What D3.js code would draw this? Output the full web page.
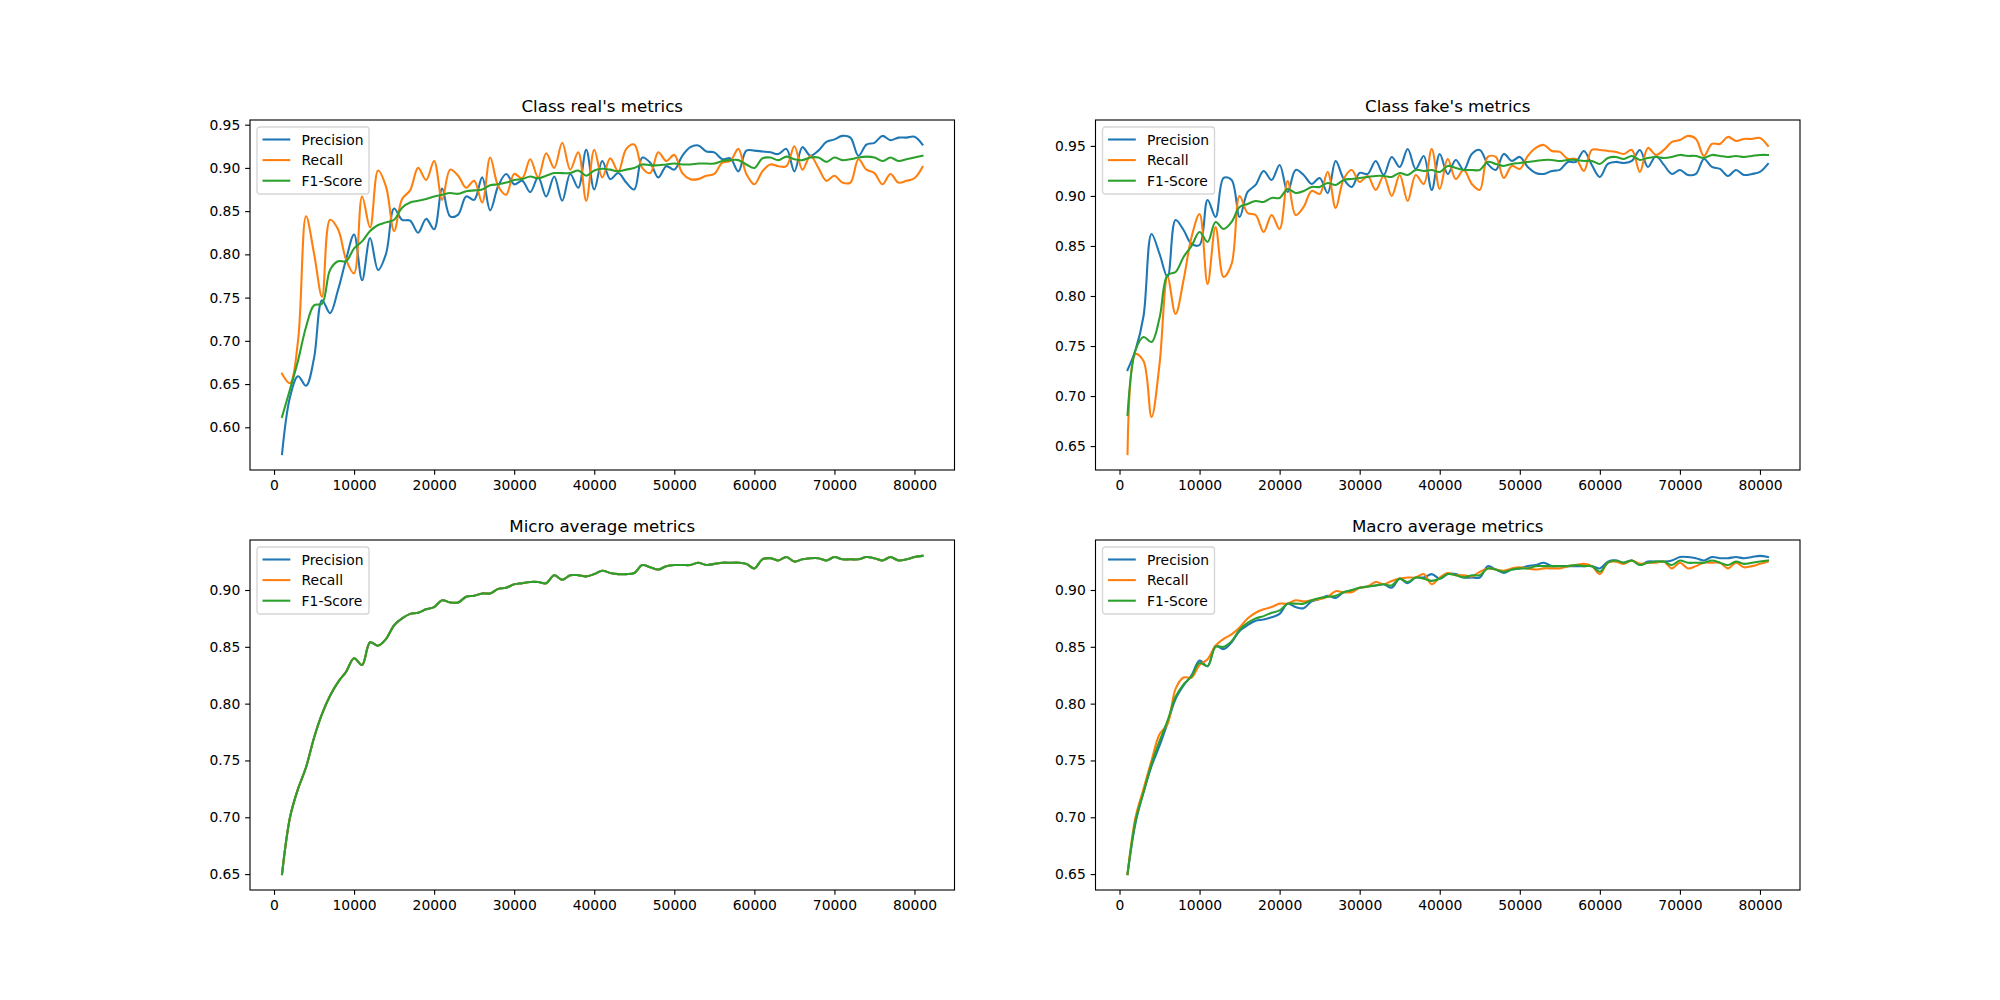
<!DOCTYPE html>
<html>
<head>
<meta charset="utf-8">
<script src="https://cdn.jsdelivr.net/npm/d3@7"></script>
<style>
  body { margin: 0; background: #fff; }
  text { font-family: "DejaVu Sans", sans-serif; fill: #000; }
</style>
</head>
<body>
<div id="chart"></div>
<script>
// training steps (x axis)
const steps = d3.range(1000, 82000, 1000);

const realPrecision = [0.569,0.635,0.659,0.648,0.680,0.747,0.732,0.759,0.794,0.823,
  0.770,0.819,0.782,0.801,0.853,0.840,0.839,0.825,0.841,0.829,
  0.876,0.844,0.846,0.867,0.863,0.889,0.851,0.879,0.893,0.881,
  0.885,0.872,0.889,0.867,0.890,0.862,0.893,0.877,0.921,0.875,
  0.908,0.887,0.894,0.883,0.875,0.912,0.906,0.889,0.902,0.898,
  0.914,0.924,0.926,0.919,0.918,0.910,0.911,0.896,0.920,0.920,
  0.919,0.918,0.916,0.922,0.896,0.924,0.914,0.920,0.930,0.933,
  0.937,0.935,0.914,0.927,0.929,0.937,0.932,0.935,0.935,0.936,0.927];
const realRecall = [0.662,0.651,0.700,0.844,0.801,0.751,0.840,0.829,0.794,0.778,
  0.867,0.831,0.897,0.878,0.827,0.864,0.874,0.900,0.886,0.908,
  0.863,0.898,0.891,0.877,0.885,0.860,0.912,0.879,0.869,0.893,
  0.888,0.910,0.889,0.917,0.900,0.929,0.898,0.918,0.862,0.921,
  0.889,0.911,0.896,0.922,0.927,0.900,0.894,0.918,0.908,0.915,
  0.894,0.887,0.887,0.891,0.893,0.906,0.908,0.922,0.893,0.881,
  0.896,0.904,0.902,0.902,0.925,0.898,0.914,0.900,0.885,0.891,
  0.883,0.883,0.910,0.898,0.894,0.881,0.893,0.883,0.885,0.888,0.901];
const realF1 = [0.612,0.644,0.677,0.716,0.741,0.743,0.782,0.792,0.792,0.807,
  0.815,0.827,0.834,0.837,0.840,0.854,0.860,0.862,0.864,0.867,
  0.869,0.871,0.870,0.873,0.874,0.875,0.880,0.881,0.883,0.886,
  0.887,0.890,0.888,0.891,0.894,0.894,0.894,0.897,0.891,0.897,
  0.899,0.898,0.896,0.898,0.900,0.904,0.903,0.903,0.904,0.905,
  0.904,0.904,0.905,0.905,0.905,0.908,0.909,0.909,0.904,0.900,
  0.911,0.912,0.909,0.913,0.910,0.909,0.912,0.912,0.907,0.912,
  0.909,0.910,0.912,0.913,0.912,0.908,0.912,0.908,0.910,0.912,0.914];

const fakePrecision = [0.726,0.746,0.780,0.862,0.842,0.819,0.876,0.866,0.852,0.851,
  0.896,0.879,0.918,0.916,0.879,0.904,0.911,0.925,0.916,0.931,
  0.904,0.926,0.921,0.912,0.918,0.903,0.935,0.917,0.909,0.923,
  0.922,0.935,0.921,0.939,0.929,0.947,0.927,0.940,0.906,0.942,
  0.922,0.936,0.926,0.942,0.946,0.932,0.926,0.942,0.935,0.939,
  0.929,0.923,0.922,0.925,0.926,0.934,0.934,0.945,0.931,0.919,
  0.932,0.934,0.933,0.935,0.946,0.929,0.940,0.931,0.922,0.926,
  0.921,0.922,0.937,0.929,0.927,0.920,0.926,0.921,0.922,0.924,0.932];
const fakeRecall = [0.642,0.742,0.735,0.679,0.732,0.819,0.782,0.816,0.859,0.882,
  0.812,0.869,0.819,0.832,0.900,0.883,0.881,0.864,0.881,0.867,
  0.915,0.881,0.889,0.905,0.902,0.924,0.888,0.917,0.926,0.914,
  0.920,0.906,0.920,0.900,0.921,0.895,0.921,0.912,0.947,0.907,
  0.937,0.917,0.926,0.912,0.906,0.939,0.939,0.918,0.930,0.927,
  0.940,0.948,0.951,0.945,0.944,0.937,0.937,0.925,0.946,0.946,
  0.945,0.944,0.942,0.946,0.924,0.948,0.941,0.946,0.954,0.956,
  0.960,0.957,0.940,0.952,0.952,0.959,0.955,0.957,0.957,0.958,0.950];
const fakeF1 = [0.681,0.746,0.759,0.754,0.778,0.821,0.824,0.839,0.850,0.864,
  0.854,0.874,0.867,0.874,0.889,0.892,0.895,0.894,0.898,0.898,
  0.907,0.903,0.905,0.909,0.909,0.913,0.911,0.916,0.917,0.918,
  0.919,0.920,0.920,0.919,0.923,0.921,0.926,0.925,0.926,0.924,
  0.930,0.928,0.926,0.926,0.926,0.934,0.932,0.930,0.932,0.933,
  0.934,0.935,0.936,0.936,0.935,0.936,0.936,0.935,0.935,0.932,
  0.938,0.939,0.937,0.940,0.936,0.938,0.939,0.938,0.939,0.941,
  0.940,0.940,0.938,0.941,0.940,0.939,0.940,0.939,0.940,0.941,0.941];

// micro precision, recall and F1 are the same curve in the picture
const microScore = [0.650,0.700,0.725,0.744,0.770,0.791,0.807,0.819,0.828,0.840,
  0.834,0.854,0.851,0.857,0.869,0.875,0.879,0.880,0.883,0.885,
  0.891,0.889,0.889,0.894,0.895,0.897,0.897,0.901,0.902,0.905,
  0.906,0.907,0.907,0.906,0.913,0.909,0.913,0.913,0.912,0.914,
  0.917,0.915,0.914,0.914,0.915,0.922,0.920,0.918,0.921,0.922,
  0.922,0.922,0.924,0.922,0.923,0.924,0.924,0.924,0.923,0.919,
  0.927,0.928,0.926,0.929,0.925,0.927,0.928,0.928,0.926,0.929,
  0.927,0.927,0.927,0.929,0.928,0.926,0.929,0.926,0.927,0.929,0.930];

const macroPrecision = [0.650,0.695,0.722,0.745,0.763,0.783,0.804,0.816,0.825,0.838,
  0.833,0.851,0.848,0.854,0.864,0.869,0.873,0.874,0.876,0.879,
  0.888,0.885,0.884,0.890,0.892,0.895,0.893,0.898,0.899,0.902,
  0.903,0.904,0.905,0.902,0.910,0.906,0.911,0.911,0.914,0.910,
  0.914,0.914,0.911,0.911,0.911,0.921,0.918,0.915,0.918,0.919,
  0.921,0.922,0.924,0.921,0.921,0.921,0.921,0.921,0.921,0.919,
  0.925,0.926,0.924,0.926,0.922,0.925,0.925,0.925,0.926,0.929,
  0.929,0.928,0.926,0.929,0.928,0.928,0.929,0.928,0.929,0.930,0.929];
const macroRecall = [0.650,0.700,0.725,0.750,0.773,0.782,0.813,0.823,0.823,0.834,
  0.839,0.851,0.857,0.861,0.867,0.875,0.880,0.883,0.885,0.888,
  0.888,0.891,0.890,0.891,0.892,0.894,0.899,0.898,0.898,0.902,
  0.903,0.907,0.905,0.908,0.910,0.911,0.911,0.914,0.905,0.911,
  0.915,0.913,0.913,0.912,0.916,0.919,0.918,0.917,0.919,0.920,
  0.919,0.918,0.919,0.919,0.919,0.921,0.922,0.923,0.921,0.914,
  0.924,0.925,0.923,0.926,0.923,0.924,0.924,0.925,0.919,0.924,
  0.919,0.921,0.924,0.924,0.924,0.919,0.924,0.920,0.921,0.923,0.925];
const macroF1 = [0.650,0.697,0.722,0.747,0.767,0.785,0.806,0.817,0.824,0.836,
  0.833,0.850,0.850,0.855,0.865,0.871,0.875,0.877,0.880,0.882,
  0.888,0.888,0.888,0.891,0.893,0.894,0.895,0.898,0.900,0.902,
  0.903,0.904,0.905,0.904,0.910,0.907,0.911,0.910,0.908,0.910,
  0.914,0.913,0.911,0.913,0.913,0.919,0.918,0.916,0.918,0.919,
  0.919,0.921,0.921,0.921,0.921,0.921,0.922,0.921,0.921,0.916,
  0.924,0.926,0.924,0.926,0.922,0.924,0.925,0.925,0.922,0.926,
  0.924,0.924,0.924,0.926,0.924,0.922,0.925,0.923,0.924,0.925,0.926];

const seriesNames = ["Precision", "Recall", "F1-Score"];
const colors = ["#1f77b4", "#ff7f0e", "#2ca02c"];

const panels = [
  { title: "Class real's metrics", series: [realPrecision, realRecall, realF1] },
  { title: "Class fake's metrics", series: [fakePrecision, fakeRecall, fakeF1] },
  { title: "Micro average metrics", series: [microScore, microScore, microScore] },
  { title: "Macro average metrics", series: [macroPrecision, macroRecall, macroF1] }
];

// figure layout (matplotlib 20x10in @100dpi, default subplot params)
const width = 2000, height = 1000;
const axW = 704.5, axH = 350;
const colX = [250, 1095.5], rowY = [120, 540];

const svg = d3.select("#chart")
  .append("svg")
  .attr("width", width)
  .attr("height", height);

panels.forEach((p, i) => {
  const g = svg.append("g")
    .attr("transform", `translate(${colX[i % 2]},${rowY[Math.floor(i / 2)]})`);

  // 5% margins like matplotlib autoscale
  const xExt = d3.extent(steps);
  const xPad = (xExt[1] - xExt[0]) * 0.05;
  const x = d3.scaleLinear()
    .domain([xExt[0] - xPad, xExt[1] + xPad])
    .range([0, axW]);

  const yExt = d3.extent(p.series.flat());
  const yPad = (yExt[1] - yExt[0]) * 0.05;
  const y = d3.scaleLinear()
    .domain([yExt[0] - yPad, yExt[1] + yPad])
    .range([axH, 0]);

  const line = d3.line()
    .x((d, j) => x(steps[j]))
    .y(d => y(d))
    .curve(d3.curveCatmullRom.alpha(0.5));

  p.series.forEach((s, k) => {
    g.append("path")
      .datum(s)
      .attr("fill", "none")
      .attr("stroke", colors[k])
      .attr("stroke-width", 2.08)
      .attr("stroke-linejoin", "round")
      .attr("stroke-linecap", "square")
      .attr("d", line);
  });

  const xAxis = g.append("g")
    .attr("transform", `translate(0,${axH})`)
    .call(d3.axisBottom(x).ticks(8).tickFormat(d3.format("d")).tickSizeOuter(0).tickSize(4.86).tickPadding(4.86));

  const yAxis = g.append("g")
    .call(d3.axisLeft(y).ticks(8).tickFormat(d3.format(".2f")).tickSizeOuter(0).tickSize(4.86).tickPadding(4.86));

  [xAxis, yAxis].forEach(a => {
    a.select(".domain").remove();
    a.selectAll(".tick line").attr("stroke", "#000").attr("stroke-width", 1.11);
    a.selectAll(".tick text")
      .style("font-family", "'DejaVu Sans', sans-serif")
      .style("font-size", "13.89px")
      .attr("fill", "#000");
  });

  // axes frame
  g.append("rect")
    .attr("width", axW)
    .attr("height", axH)
    .attr("fill", "none")
    .attr("stroke", "#000")
    .attr("stroke-width", 1.11);

  g.append("text")
    .attr("x", axW / 2)
    .attr("y", -8.3)
    .attr("text-anchor", "middle")
    .style("font-size", "16.67px")
    .text(p.title);

  // legend, upper left
  const lg = g.append("g").attr("transform", "translate(7,7)");
  lg.append("rect")
    .attr("width", 112)
    .attr("height", 67)
    .attr("rx", 2.8)
    .attr("fill", "#fff")
    .attr("fill-opacity", 0.8)
    .attr("stroke", "#cccccc")
    .attr("stroke-opacity", 0.8)
    .attr("stroke-width", 1.39);

  seriesNames.forEach((name, k) => {
    const cy = 12.5 + k * 20.6;
    lg.append("line")
      .attr("x1", 5.5).attr("x2", 33.3)
      .attr("y1", cy).attr("y2", cy)
      .attr("stroke", colors[k])
      .attr("stroke-width", 2.08);
    lg.append("text")
      .attr("x", 44.6)
      .attr("y", cy)
      .attr("dy", "0.36em")
      .style("font-size", "13.89px")
      .text(name);
  });
});
</script>
</body>
</html>
